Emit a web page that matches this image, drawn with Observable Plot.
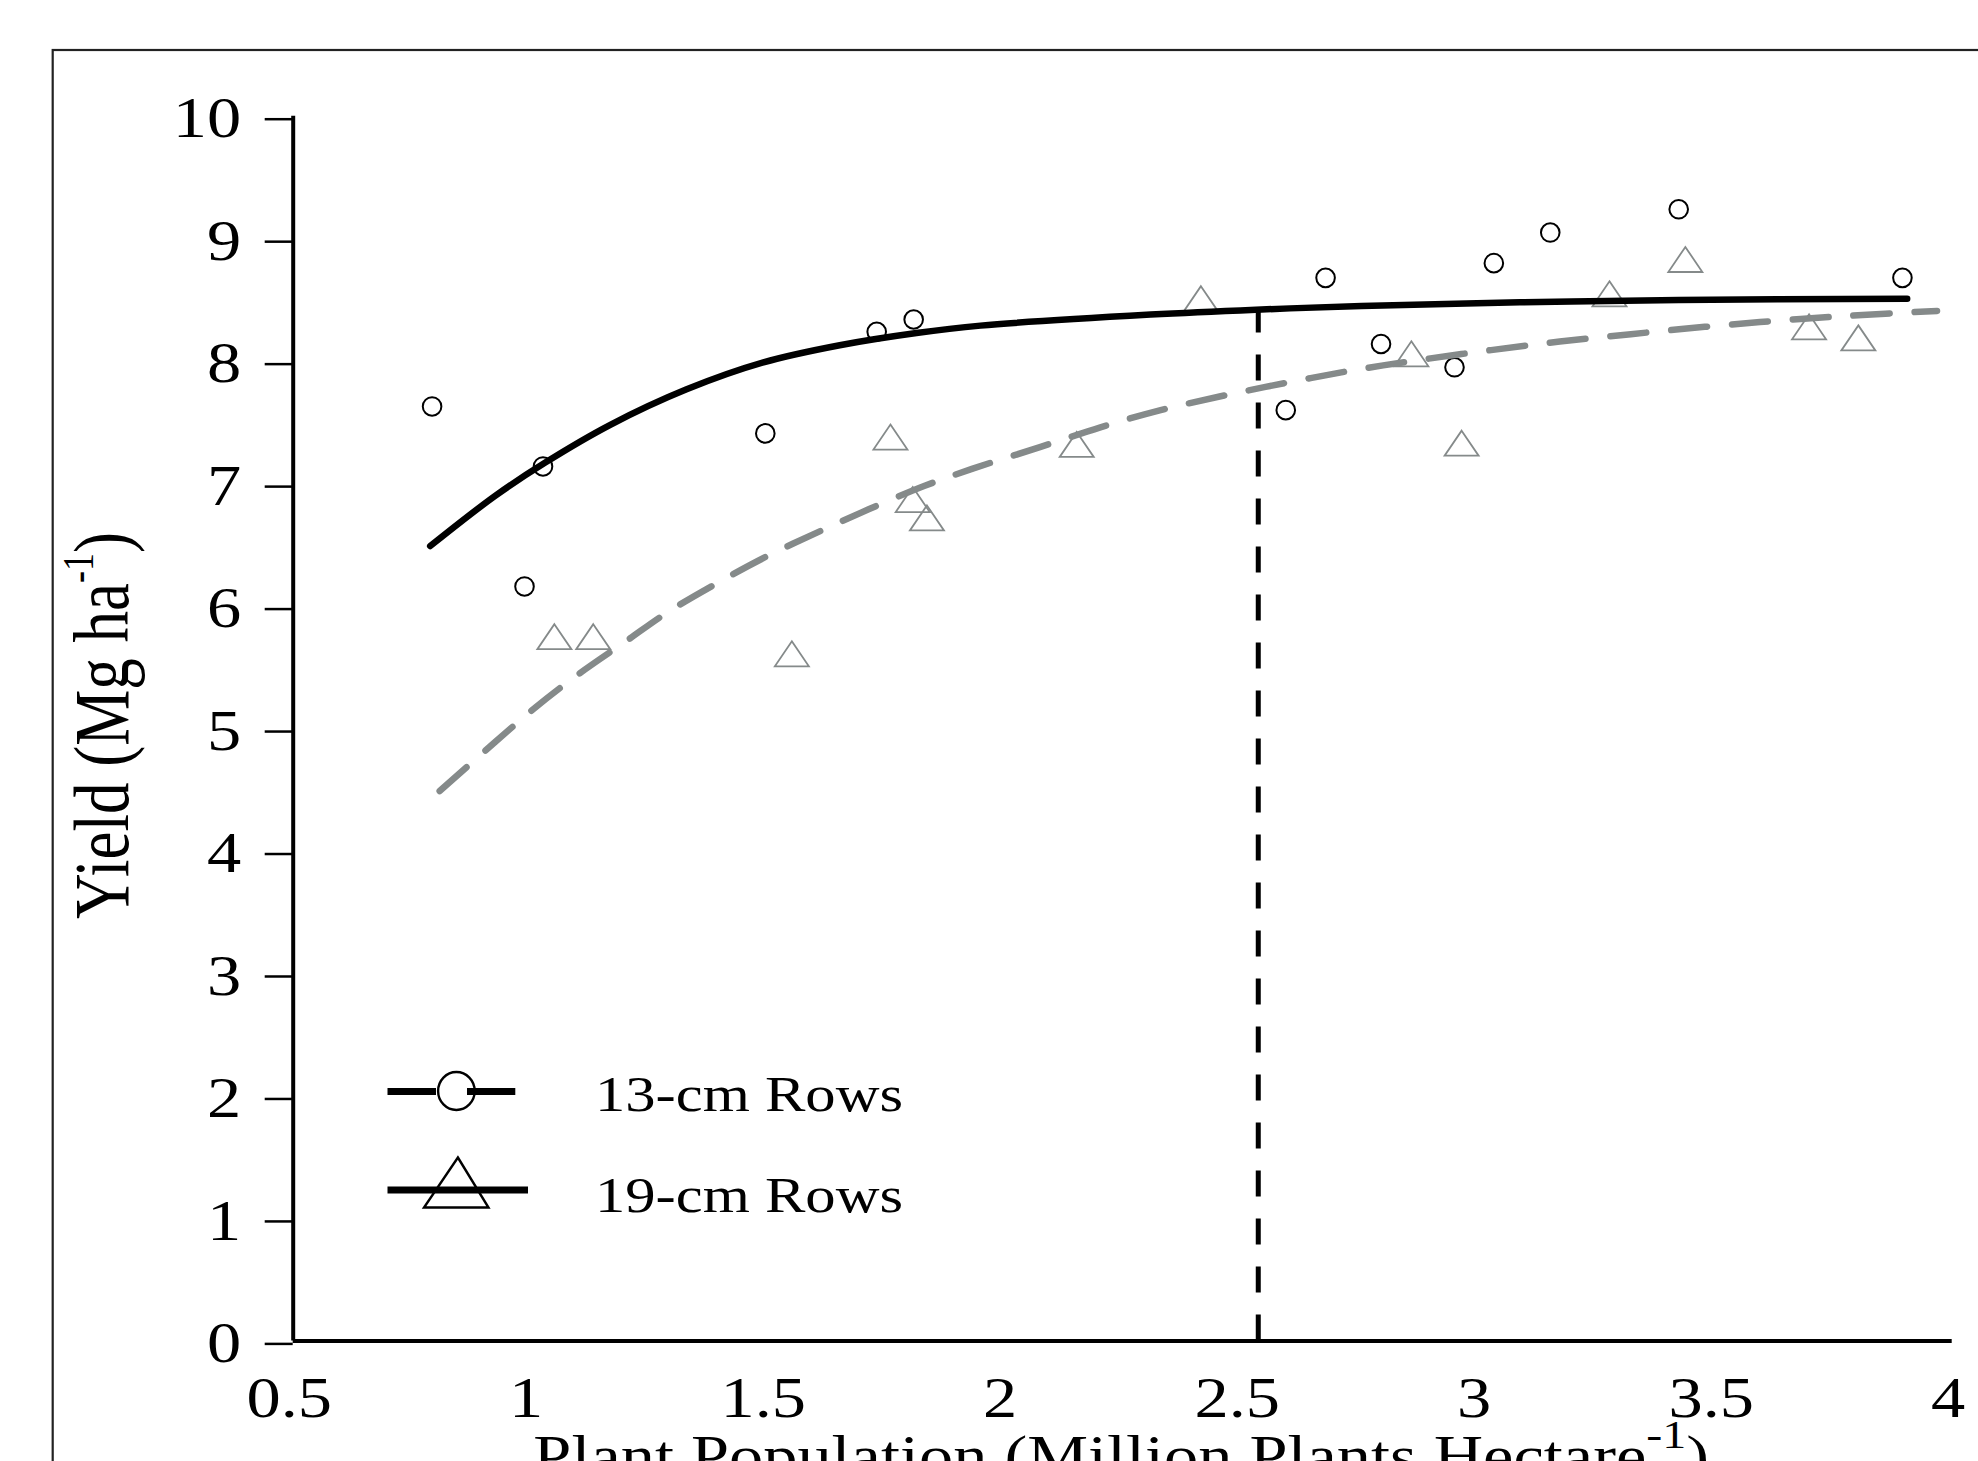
<!DOCTYPE html>
<html>
<head>
<meta charset="utf-8">
<script src="https://cdn.jsdelivr.net/npm/d3@7"></script>
<script src="https://cdn.jsdelivr.net/npm/@observablehq/plot@0.6"></script>
<style>
  html, body { margin: 0; padding: 0; background: #fff; overflow: hidden; }
  #chart svg { display: block; overflow: hidden; }
</style>
</head>
<body>
<div id="chart"></div>
<script>
// ---- Data ----
const seriesNames = ["13-cm Rows", "19-cm Rows"];

// 13-cm rows observations (circles)
const rows13X = [0.793, 0.988, 1.027, 1.496, 1.731, 1.809, 2.594, 2.678, 2.795, 2.950, 3.033, 3.152, 3.423, 3.895];
const rows13Y = [7.63, 6.16, 7.14, 7.41, 8.24, 8.34, 7.60, 8.68, 8.14, 7.95, 8.80, 9.05, 9.24, 8.68];

// 19-cm rows observations (triangles)
const rows19X = [1.051, 1.133, 1.552, 1.760, 1.807, 1.837, 2.153, 2.415, 2.859, 2.965, 3.277, 3.437, 3.698, 3.802];
const rows19Y = [5.75, 5.75, 5.61, 7.38, 6.87, 6.72, 7.32, 8.51, 8.06, 7.33, 8.55, 8.83, 8.28, 8.19];

// fitted response curves
const fit13X = [0.789, 0.926, 1.031, 1.169, 1.330, 1.492, 1.653, 1.815, 1.950, 2.309, 2.531, 2.754, 3.088, 3.423, 3.905];
const fit13Y = [6.49, 6.90, 7.17, 7.48, 7.77, 7.99, 8.13, 8.23, 8.29, 8.38, 8.42, 8.45, 8.48, 8.50, 8.51];

const fit19X = [0.809, 0.926, 1.007, 1.104, 1.201, 1.290, 1.391, 1.496, 1.605, 1.714, 1.831, 1.932, 2.077, 2.203, 2.330, 2.465, 2.604, 2.743, 2.877, 3.027, 3.172, 3.322, 3.478, 3.629, 3.779, 3.968];
const fit19Y = [4.49, 4.89, 5.16, 5.45, 5.71, 5.95, 6.18, 6.40, 6.60, 6.79, 6.98, 7.12, 7.30, 7.46, 7.60, 7.72, 7.83, 7.93, 8.01, 8.09, 8.16, 8.22, 8.28, 8.33, 8.37, 8.41];

// optimum plant population marker
const optimumX = [2.536];
const optimumTop = [8.42];

// axes
const xTicks = [0.5, 1, 1.5, 2, 2.5, 3, 3.5, 4];
const yTicks = [0, 1, 2, 3, 4, 5, 6, 7, 8, 9, 10];
const xLabel = ["Plant Population (Million Plants Hectare", "-1", ")"];
const yLabel = ["Yield (Mg ha", "-1", ")"];

// ---- Build tables ----
const pts13 = rows13X.map((x, i) => ({x, y: rows13Y[i]}));
const pts19 = rows19X.map((x, i) => ({x, y: rows19Y[i]}));
const line13 = fit13X.map((x, i) => ({x, y: fit13Y[i]}));
const line19 = fit19X.map((x, i) => ({x, y: fit19Y[i]}));
const optimum = optimumX.map((x, i) => ({x, y1: 0, y2: optimumTop[i]}));

const GRAY = "#858a8a";
const FONT = "'Liberation Serif', 'Times New Roman', serif";
const STRETCH = 1.2;

const triangleSymbol = {
  draw(ctx) {
    ctx.moveTo(0, -12.5);
    ctx.lineTo(17, 12.5);
    ctx.lineTo(-17, 12.5);
    ctx.closePath();
  }
};

const plot = Plot.plot({
  width: 1978,
  height: 1461,
  marginLeft: 292.7,
  marginRight: 26.3,
  marginTop: 115.7,
  marginBottom: 120.6,
  style: {fontFamily: FONT, fontSize: "57px", color: "#000", background: "#fff", overflow: "hidden"},
  x: {domain: [0.5, 4]},
  y: {domain: [0, 10]},
  marks: [
    Plot.axisY(yTicks, {tickSize: 28, tickPadding: 24, fontSize: 57, strokeWidth: 2.5, dy: 3, label: null, tickFormat: d => `${d}`}),
    Plot.axisX(xTicks, {tickSize: 0, tickPadding: 36, fontSize: 57, dx: -4, label: null, tickFormat: d => `${d}`}),
    Plot.ruleX(optimum, {x: "x", y1: "y1", y2: "y2", stroke: "#000", strokeWidth: 5, strokeDasharray: "26,22"}),
    Plot.dot(pts13, {x: "x", y: "y", r: 9.3, stroke: "#000", strokeWidth: 2, fill: "none"}),
    Plot.dot(pts19, {x: "x", y: "y", r: 10, symbol: triangleSymbol, stroke: GRAY, strokeWidth: 1.8, fill: "none"}),
    Plot.line(line19, {x: "x", y: "y", curve: "catmull-rom", stroke: GRAY, strokeWidth: 6.5, strokeDasharray: "36,25"}),
    Plot.line(line13, {x: "x", y: "y", curve: "catmull-rom", stroke: "#000", strokeWidth: 6.5}),
    Plot.ruleX([0.5], {stroke: "#000", strokeWidth: 4}),
    Plot.ruleY([0], {stroke: "#000", strokeWidth: 4})
  ]
});

document.getElementById("chart").append(plot);

// stretch the axis tick labels horizontally like the reference rendering
d3.select(plot).selectAll("text").each(function () {
  const t = this.getAttribute("transform") || "";
  const x = this.getAttribute("x");
  if (x != null && !isNaN(+x)) {
    this.setAttribute("transform", `${t} translate(${x},0) scale(${STRETCH},1)`);
    this.removeAttribute("x");
  } else {
    this.setAttribute("transform", `${t} scale(${STRETCH},1)`);
  }
});

const svg = d3.select(plot);
const sx = plot.scale("x");

// outer figure frame (cropped at right and bottom)
svg.append("rect")
  .attr("x", 52.7).attr("y", 50).attr("width", 4000).attr("height", 4000)
  .attr("fill", "none").attr("stroke", "#222").attr("stroke-width", 2.2);

// y-axis title
const yt = svg.append("text")
  .attr("transform", `translate(128.3,919) scale(1.24,1) rotate(-90)`)
  .attr("text-anchor", "start")
  .attr("font-family", FONT).attr("font-size", 63).attr("fill", "#000");
yt.append("tspan").text(yLabel[0]);
yt.append("tspan").attr("font-size", 36).attr("dy", -28.7).text(yLabel[1]);
yt.append("tspan").attr("dy", 28.7).text(yLabel[2]);

// x-axis title (cut by the bottom of the picture)
const xMid = (sx.apply(0.5) + sx.apply(4)) / 2;
const xt = svg.append("text")
  .attr("transform", `translate(${xMid - 1},1475.4) scale(${STRETCH},1)`)
  .attr("text-anchor", "middle")
  .attr("font-family", FONT).attr("font-size", 57).attr("fill", "#000");
xt.append("tspan").text(xLabel[0]);
xt.append("tspan").attr("font-size", 40).attr("dy", -27.4).text(xLabel[1]);
xt.append("tspan").attr("dy", 27.4).text(xLabel[2]);

// legend
const lg = svg.append("g").attr("aria-label", "legend");
// 13-cm
lg.append("line").attr("x1", 387.5).attr("x2", 436).attr("y1", 1091.5).attr("y2", 1091.5)
  .attr("stroke", "#000").attr("stroke-width", 7);
lg.append("line").attr("x1", 467).attr("x2", 515.3).attr("y1", 1091.5).attr("y2", 1091.5)
  .attr("stroke", "#000").attr("stroke-width", 7);
lg.append("ellipse").attr("cx", 456.4).attr("cy", 1091).attr("rx", 18.3).attr("ry", 19)
  .attr("fill", "none").attr("stroke", "#000").attr("stroke-width", 2.4);
// 19-cm
lg.append("path").attr("d", "M457.9,1157.5 L488.5,1207.5 L424,1207.5 Z")
  .attr("fill", "none").attr("stroke", "#000").attr("stroke-width", 2.4);
lg.append("line").attr("x1", 387.5).attr("x2", 528).attr("y1", 1190).attr("y2", 1190)
  .attr("stroke", "#000").attr("stroke-width", 7);
// legend labels
seriesNames.forEach((name, i) => {
  lg.append("text")
    .attr("transform", `translate(595,${1110.7 + i * 101}) scale(${STRETCH},1)`)
    .attr("text-anchor", "start")
    .attr("font-family", FONT).attr("font-size", 50.5).attr("fill", "#000")
    .text(name);
});
</script>
</body>
</html>
